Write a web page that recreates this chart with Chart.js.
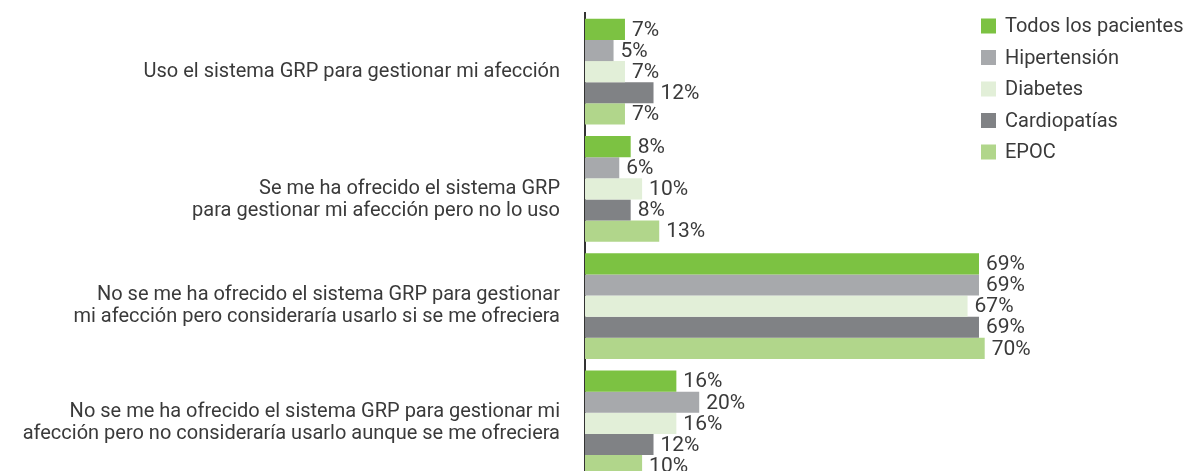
<!DOCTYPE html>
<html>
<head>
<meta charset="utf-8">
<script src="https://cdn.jsdelivr.net/npm/chart.js@4.4.1/dist/chart.umd.min.js"></script>
<style>
    html, body { margin: 0; padding: 0; background: #fff; overflow: hidden; }
    .chart-container { position: relative; width: 1185px; height: 490px; }
</style>
</head>
<body>
<div class="chart-container">
    <canvas id="grp-chart"></canvas>
</div>
<script>
// categorías (eje vertical); la segunda va algo más baja en el original
const categories = [
    'Uso el sistema GRP para gestionar mi afección',
    ['', 'Se me ha ofrecido el sistema GRP', 'para gestionar mi afección pero no lo uso'],
    ['No se me ha ofrecido el sistema GRP para gestionar', 'mi afección pero consideraría usarlo si se me ofreciera'],
    ['No se me ha ofrecido el sistema GRP para gestionar mi', 'afección pero no consideraría usarlo aunque se me ofreciera']
];

const seriesNames = ['Todos los pacientes', 'Hipertensión', 'Diabetes', 'Cardiopatías', 'EPOC'];

// porcentajes por serie
const todos = [7, 8, 69, 16];
const hipertension = [5, 6, 69, 20];
const diabetes = [7, 10, 67, 16];
const cardiopatias = [12, 8, 69, 12];
const epoc = [7, 13, 70, 10];

const seriesColors = ['#7cc242', '#a7a9ac', '#e2efd8', '#808285', '#b1d68b'];

const FONT = 'Roboto, "Liberation Sans", sans-serif';

// etiquetas de valor al final de cada barra
const valueLabels = {
    id: 'valueLabels',
    afterDatasetsDraw(chart) {
        const ctx = chart.ctx;
        ctx.save();
        ctx.font = '21px ' + FONT;
        ctx.fillStyle = '#3a3a3a';
        ctx.textAlign = 'left';
        ctx.textBaseline = 'middle';
        chart.data.datasets.forEach((ds, i) => {
            const meta = chart.getDatasetMeta(i);
            meta.data.forEach((bar, j) => {
                ctx.fillText(ds.data[j] + '%', bar.x + 7, bar.y + 1);
            });
        });
        ctx.restore();
    }
};

// leyenda arriba a la derecha
const sideLegend = {
    id: 'sideLegend',
    afterDraw(chart) {
        const ctx = chart.ctx;
        ctx.save();
        ctx.font = '20px ' + FONT;
        ctx.textAlign = 'left';
        ctx.textBaseline = 'middle';
        chart.data.datasets.forEach((ds, i) => {
            const y = 26 + i * 31.5;
            ctx.fillStyle = ds.backgroundColor;
            ctx.fillRect(981, y - 7.5, 15, 15);
            ctx.fillStyle = '#3a3a3a';
            ctx.fillText(ds.label, 1005, y + 1);
        });
        ctx.restore();
    }
};

const seriesData = [todos, hipertension, diabetes, cardiopatias, epoc];

new Chart(document.getElementById('grp-chart'), {
    type: 'bar',
    data: {
        labels: categories,
        datasets: seriesNames.map((name, i) => ({
            label: name,
            data: seriesData[i],
            backgroundColor: seriesColors[i],
            borderWidth: 0,
            categoryPercentage: 0.9,
            barPercentage: 1.0
        }))
    },
    options: {
        indexAxis: 'y',
        responsive: true,
        maintainAspectRatio: false,
        animation: false,
        layout: {
            padding: { top: 13, right: 29, bottom: 8, left: 0 }
        },
        plugins: {
            legend: { display: false },
            tooltip: { enabled: false }
        },
        scales: {
            x: {
                display: false,
                min: 0,
                max: 100
            },
            y: {
                grid: { display: false },
                border: { display: true, color: '#333', width: 2 },
                ticks: {
                    color: '#3a3a3a',
                    padding: 17,
                    font: { family: FONT, size: 20, lineHeight: 1.1 }
                },
                afterFit(scale) {
                    scale.width = 585;
                    scale.paddingTop = 0;
                    scale.paddingBottom = 0;
                }
            }
        }
    },
    plugins: [valueLabels, sideLegend]
});
</script>
</body>
</html>
